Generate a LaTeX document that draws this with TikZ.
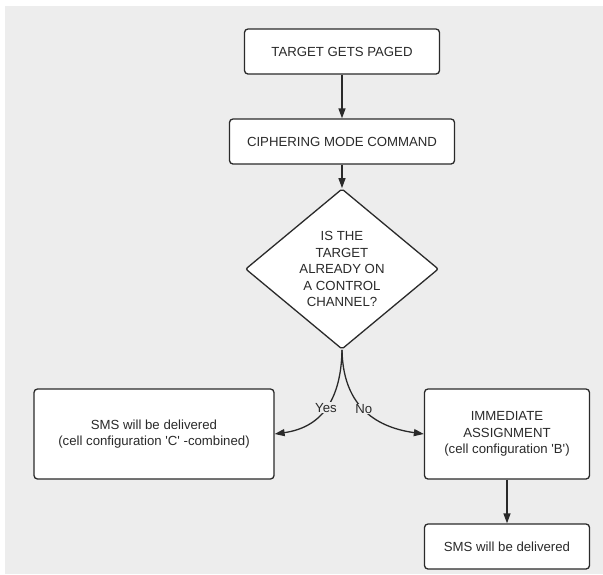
\documentclass[tikz,border=0pt]{standalone}
\usepackage{fontspec}
\setmainfont{Liberation Sans}
\usetikzlibrary{shapes.geometric,arrows.meta}
\definecolor{canvas}{HTML}{EDEDED}
\definecolor{ink}{HTML}{2A2A2A}
\begin{document}
\begin{tikzpicture}
 [x=1pt,y=-1pt,font=\fontsize{13.2}{16.5}\selectfont,
  box/.style={draw=ink,fill=white,rounded corners=3.5pt,line width=1.3pt,align=center,inner sep=0pt,text=ink},
  ask/.style={diamond,draw=ink,fill=white,rounded corners=2pt,line width=1.3pt,align=center,inner sep=0pt,text=ink,minimum width=193pt,minimum height=148pt},
  arr/.style={draw=ink,line width=1.3pt,-{Triangle[length=10pt,width=7pt]}},
  lbl/.style={fill=canvas,inner sep=0.5pt,text=ink}]
  \useasboundingbox (0,0) rectangle (603,574);
  \fill[canvas] (4.5,6) rectangle (603,574);

  \node[box,minimum width=195pt,minimum height=45pt] (paged) at (342,51.5) {TARGET GETS PAGED};
  \node[box,minimum width=225pt,minimum height=45pt] (cipher) at (342,141.5) {CIPHERING MODE COMMAND};
  \node[ask] (query) at (342,269) {IS THE\\TARGET\\ALREADY ON\\A CONTROL\\CHANNEL?};
  \node[box,minimum width=240pt,minimum height=90pt] (combined) at (154,434) {SMS will be delivered\\(cell configuration \textquotesingle C\textquotesingle\ -combined)};
  \node[box,minimum width=165pt,minimum height=90pt] (assign) at (507,434) {IMMEDIATE\\ASSIGNMENT\\(cell configuration \textquotesingle B\textquotesingle)};
  \node[box,minimum width=165pt,minimum height=45pt] (sms) at (507,546.5) {SMS will be delivered};

  \foreach \from/\to in {paged/cipher,cipher/query,assign/sms}
    \draw[arr] (\from) -- (\to);

  \draw[arr] (query.south) to[out=-91,in=8,looseness=1.15] node[lbl,pos=0.5] {Yes} (combined.east);
  \draw[arr] (query.south) to[out=-89,in=172,looseness=1.15] node[lbl,pos=0.5] {No} (assign.west);
\end{tikzpicture}
\end{document}
